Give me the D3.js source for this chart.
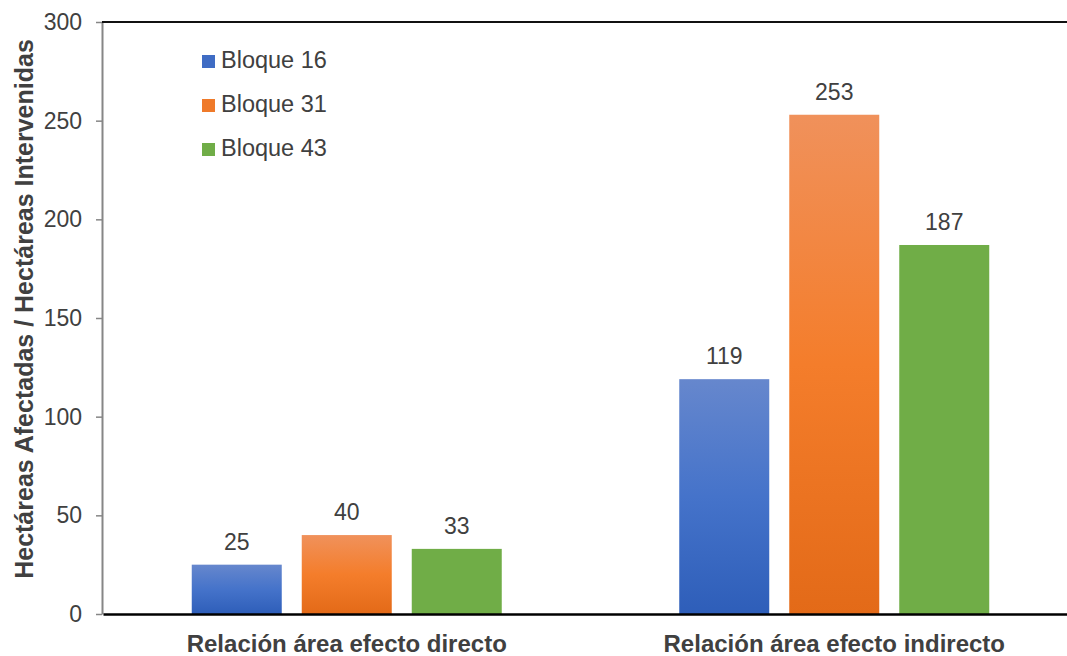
<!DOCTYPE html>
<html>
<head>
<meta charset="utf-8">
<script src="https://cdn.jsdelivr.net/npm/d3@7"></script>
<style>
  html, body { margin: 0; padding: 0; background: #fff; }
  svg { display: block; font-family: "Liberation Sans", Arial, sans-serif; }
</style>
</head>
<body>
<svg id="chart" width="1067" height="656"></svg>
<script>
// Ratio of affected hectares to intervened hectares, per block
const categories = ["Relación área efecto directo", "Relación área efecto indirecto"];
const seriesNames = ["Bloque 16", "Bloque 31", "Bloque 43"];
const bloque16 = [25, 119];
const bloque31 = [40, 253];
const bloque43 = [33, 187];
const yTicks = [0, 50, 100, 150, 200, 250, 300];
const yTitle = "Hectáreas Afectadas / Hectáreas Intervenidas";

const seriesValues = [bloque16, bloque31, bloque43];
const rows = categories.map((c, i) => ({
  category: c,
  values: seriesNames.map((s, j) => ({ series: s, value: seriesValues[j][i] }))
}));

const svg = d3.select("#chart");
const textColor = "#404040";

const plot = { left: 102, right: 1078, top: 22, bottom: 614 };

// Gradient fills for the bars
const defs = svg.append("defs");
const gradients = [
  { id: "g16", stops: [["0%", "#6687cd"], ["50%", "#4573ca"], ["100%", "#2e5eb9"]] },
  { id: "g31", stops: [["0%", "#f0915b"], ["50%", "#f47d2b"], ["100%", "#e36a18"]] },
  { id: "g43", stops: [["0%", "#70ad47"], ["100%", "#70ad47"]] }
];
gradients.forEach(g => {
  const lg = defs.append("linearGradient").attr("id", g.id)
    .attr("x1", 0).attr("y1", 0).attr("x2", 0).attr("y2", 1);
  g.stops.forEach(s => lg.append("stop").attr("offset", s[0]).attr("stop-color", s[1]));
});
const fill = d3.scaleOrdinal().domain(seriesNames).range(gradients.map(g => `url(#${g.id})`));
const legendFill = d3.scaleOrdinal().domain(seriesNames).range(["#3f6cc4", "#ef7a2a", "#70ad47"]);

const x0 = d3.scaleBand().domain(categories).range([plot.left + 1, plot.right]).padding(0);
const groupWidth = 310;
const x1 = d3.scaleBand().domain(seriesNames)
  .range([(x0.bandwidth() - groupWidth) / 2, (x0.bandwidth() + groupWidth) / 2])
  .paddingInner(20 / 110).paddingOuter(0);
const y = d3.scaleLinear().domain([0, 300]).range([plot.bottom, plot.top]);

// Bars
const groups = svg.append("g").selectAll("g").data(rows).join("g")
  .attr("transform", d => `translate(${x0(d.category)},0)`);
groups.selectAll("rect").data(d => d.values).join("rect")
  .attr("x", d => x1(d.series))
  .attr("y", d => y(d.value))
  .attr("width", x1.bandwidth())
  .attr("height", d => y(0) - y(d.value))
  .attr("fill", d => fill(d.series));

// Value labels
groups.selectAll("text").data(d => d.values).join("text")
  .attr("x", d => x1(d.series) + x1.bandwidth() / 2)
  .attr("y", d => y(d.value) - 15)
  .attr("text-anchor", "middle")
  .attr("font-size", "23px")
  .attr("fill", textColor)
  .text(d => d.value);

// Y axis
const yAxis = svg.append("g").attr("transform", `translate(${plot.left},0)`)
  .call(d3.axisLeft(y).tickValues(yTicks).tickSize(6).tickPadding(14).tickSizeOuter(0));
yAxis.select(".domain").attr("stroke", "#868686").attr("stroke-width", 2);
yAxis.selectAll(".tick line").attr("stroke", "#868686").attr("stroke-width", 1.5);
yAxis.selectAll(".tick text").attr("font-size", "23px").attr("fill", textColor)
  .attr("font-family", "Liberation Sans, Arial, sans-serif");

// Top border and baseline
svg.append("line").attr("x1", plot.left).attr("x2", plot.right)
  .attr("y1", plot.top).attr("y2", plot.top).attr("stroke", "#111").attr("stroke-width", 2);
const xAxis = svg.append("g").attr("transform", `translate(0,${plot.bottom})`)
  .call(d3.axisBottom(x0).tickSize(0).tickPadding(0));
xAxis.select(".domain").attr("stroke", "#000").attr("stroke-width", 2.5);
xAxis.selectAll(".tick text")
  .attr("y", 38).attr("dy", 0)
  .attr("font-size", "24px").attr("font-weight", "bold").attr("fill", textColor)
  .attr("font-family", "Liberation Sans, Arial, sans-serif");

// Y axis title
svg.append("text")
  .attr("transform", "translate(33,309) rotate(-90)")
  .attr("text-anchor", "middle")
  .attr("font-size", "25px").attr("font-weight", "bold").attr("fill", textColor)
  .text(yTitle);

// Legend
const legend = svg.append("g").selectAll("g").data(seriesNames).join("g")
  .attr("transform", (d, i) => `translate(202,${68 + i * 44})`);
legend.append("rect").attr("x", 0).attr("y", -13).attr("width", 13).attr("height", 13)
  .attr("fill", d => legendFill(d));
legend.append("text").attr("x", 19).attr("y", 0)
  .attr("font-size", "23.5px").attr("fill", textColor)
  .text(d => d);
</script>
</body>
</html>
